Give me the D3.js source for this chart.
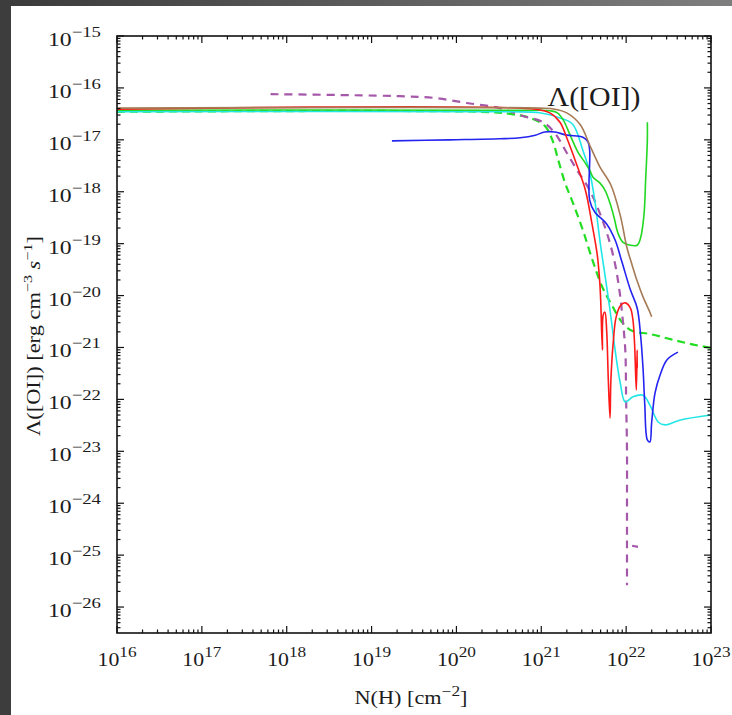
<!DOCTYPE html>
<html><head><meta charset="utf-8">
<script src="https://cdn.jsdelivr.net/npm/d3@7"></script>
<style>
body{margin:0;background:#fff}
svg{display:block}
text{font-family:"Liberation Serif","Times New Roman",serif;fill:#1c1c1c}
</style>
</head><body>
<script>
// ---- data (log10 N(H) [cm^-2], log10 Λ [erg cm^-3 s^-1]) ----
const xExponents = [16, 17, 18, 19, 20, 21, 22, 23];
const yExponents = [-15, -16, -17, -18, -19, -20, -21, -22, -23, -24, -25, -26];
const xDomainExp = [16, 23];
const yDomainExp = [-26.5, -15];
const titleText = "Λ([OI])";

const brownSolid = [[16,-16.39],[20.98,-16.39],[21.16,-16.41],[21.30,-16.48],[21.46,-16.71],[21.57,-17.10],[21.69,-17.52],[21.82,-17.87],[21.93,-18.45],[22.01,-19.08],[22.07,-19.41],[22.13,-19.72],[22.20,-20.03],[22.28,-20.32],[22.30,-20.41]];
const greenSolid = [[16,-16.43],[20.87,-16.43],[21.10,-16.44],[21.19,-16.48],[21.26,-16.62],[21.34,-16.91],[21.43,-17.23],[21.52,-17.45],[21.57,-17.58],[21.61,-17.72],[21.69,-17.83],[21.75,-17.97],[21.81,-18.22],[21.86,-18.51],[21.90,-18.78],[21.96,-18.97],[22.05,-19.03],[22.13,-19.03],[22.17,-18.89],[22.21,-18.45],[22.23,-17.77],[22.25,-17.00],[22.25,-16.66]];
const cyanSolid = [[16,-16.46],[20.63,-16.46],[20.98,-16.48],[21.22,-16.58],[21.37,-16.70],[21.49,-17.20],[21.57,-17.62],[21.63,-18.16],[21.69,-18.93],[21.75,-19.60],[21.81,-20.28],[21.87,-21.05],[21.93,-21.68],[21.99,-22.05],[22.08,-21.95],[22.20,-21.92],[22.28,-22.11],[22.38,-22.44],[22.46,-22.49],[22.63,-22.40],[23.0,-22.30]];
const redSolid = [[16,-16.41],[20.93,-16.41],[21.10,-16.48],[21.22,-16.66],[21.30,-16.96],[21.42,-17.49],[21.52,-17.97],[21.60,-18.64],[21.66,-19.22],[21.69,-19.76],[21.70,-20.09],[21.72,-21.05],[21.73,-20.37],[21.75,-20.32],[21.77,-20.66],[21.79,-21.63],[21.81,-22.36],[21.82,-21.63],[21.85,-20.86],[21.88,-20.43],[21.93,-20.20],[21.99,-20.14],[22.05,-20.24],[22.08,-20.47],[22.10,-20.95],[22.12,-21.82],[22.13,-21.05],[22.13,-21.40]];
const blueSolid = [[19.24,-17.02],[19.92,-17.00],[20.51,-16.98],[20.75,-16.96],[20.93,-16.91],[21.04,-16.85],[21.16,-16.85],[21.30,-16.91],[21.49,-16.95],[21.55,-17.04],[21.57,-17.20],[21.57,-18.16],[21.63,-18.39],[21.77,-18.62],[21.87,-18.93],[21.95,-19.35],[22.05,-19.89],[22.13,-20.24],[22.17,-20.76],[22.20,-21.43],[22.22,-22.11],[22.25,-22.78],[22.28,-22.82],[22.30,-22.46],[22.34,-21.88],[22.40,-21.53],[22.48,-21.24],[22.61,-21.09]];
const greenDashed = [[16,-16.46],[20.28,-16.46],[20.63,-16.50],[20.87,-16.58],[21.04,-16.73],[21.13,-17.00],[21.20,-17.39],[21.28,-17.83],[21.36,-18.16],[21.49,-18.74],[21.61,-19.35],[21.72,-19.84],[21.83,-20.18],[21.95,-20.51],[22.07,-20.68],[22.28,-20.74],[22.52,-20.84],[22.75,-20.93],[23.0,-21.01]];
const purpleDashed = [[17.81,-16.12],[18.75,-16.14],[19.33,-16.16],[19.72,-16.19],[20.12,-16.29],[20.51,-16.39],[20.78,-16.54],[21.02,-16.66],[21.16,-16.87],[21.30,-17.25],[21.42,-17.58],[21.57,-17.97],[21.75,-18.68],[21.86,-19.32],[21.92,-19.89],[21.96,-20.47],[21.99,-21.05],[22.00,-22.01],[22.01,-22.98],[22.01,-23.94],[22.01,-24.81],[22.01,-25.58]];
const purpleBit = [[22.07,-24.82],[22.14,-24.84]];

const W = 732, H = 715;
const M = {left:117, right:711, top:36, bottom:633};

const svg = d3.select("body").append("svg").attr("width", W).attr("height", H);

// dark gray surrounding border (screenshot frame)
const defs = svg.append("defs");
const g1 = defs.append("linearGradient").attr("id","topband").attr("x1","0").attr("x2","1");
g1.append("stop").attr("offset","0").attr("stop-color","#3a3a3a");
g1.append("stop").attr("offset","1").attr("stop-color","#7e7e7e");
svg.append("rect").attr("x",0).attr("y",0).attr("width",W).attr("height",6).attr("fill","url(#topband)");
svg.append("rect").attr("x",0).attr("y",0).attr("width",11).attr("height",H).attr("fill","#3d3d3d");

const x = d3.scaleLog().domain(xDomainExp.map(e=>10**e)).range([M.left, M.right]);
const y = d3.scaleLog().domain(yDomainExp.map(e=>10**e)).range([M.bottom, M.top]);

const clip = defs.append("clipPath").attr("id","plotclip");
clip.append("rect").attr("x",M.left).attr("y",M.top).attr("width",M.right-M.left).attr("height",M.bottom-M.top);

const line = d3.line()
  .x(d=>x(10**d[0])).y(d=>y(10**d[1]))
  .curve(d3.curveCatmullRom.alpha(0.5));

const plot = svg.append("g").attr("clip-path","url(#plotclip)");
const series = [
  {data: greenDashed, color:"#22dd22", w:2.2, dash:"8,5"},
  {data: purpleDashed, color:"#a558aa", w:2.2, dash:"8,6"},
  {data: purpleBit, color:"#a558aa", w:2.2, dash:null},
  {data: cyanSolid, color:"#22e6e6", w:1.6, dash:null},
  {data: greenSolid, color:"#22d822", w:1.6, dash:null},
  {data: blueSolid, color:"#2424f0", w:1.6, dash:null},
  {data: redSolid, color:"#ff1a1a", w:1.6, dash:null},
  {data: brownSolid, color:"#a57a55", w:1.6, dash:null}
];
series.forEach(s=>{
  plot.append("path").attr("d", line(s.data))
    .attr("fill","none").attr("stroke", s.color).attr("stroke-width", s.w)
    .attr("stroke-dasharray", s.dash).attr("stroke-linejoin","round");
});

// frame
svg.append("rect").attr("x",M.left).attr("y",M.top).attr("width",M.right-M.left).attr("height",M.bottom-M.top)
  .attr("fill","none").attr("stroke","#111").attr("stroke-width",1.6);

// ticks (inward, all four sides)
const tk = svg.append("g").attr("stroke","#111").attr("stroke-width",1.2);
const xTicks = [];
for (let e = xDomainExp[0]; e < xDomainExp[1]; e++) for (let k = 1; k < 10; k++) xTicks.push({v:k*10**e, major:k===1});
xTicks.push({v:10**xDomainExp[1], major:true});
xTicks.forEach(t=>{
  const px = x(t.v), L = t.major ? 7 : 3.5;
  tk.append("line").attr("x1",px).attr("x2",px).attr("y1",M.bottom).attr("y2",M.bottom-L);
  tk.append("line").attr("x1",px).attr("x2",px).attr("y1",M.top).attr("y2",M.top+L);
});
const yTicks = [];
for (let e = -27; e < -15; e++) for (let k = 1; k < 10; k++) {
  const v = k*10**e;
  if (v >= 10**yDomainExp[0] && v <= 10**yDomainExp[1]) yTicks.push({v, major:k===1});
}
yTicks.push({v:10**yDomainExp[1], major:true});
yTicks.forEach(t=>{
  const py = y(t.v), L = t.major ? 7 : 3.5;
  tk.append("line").attr("y1",py).attr("y2",py).attr("x1",M.left).attr("x2",M.left+L);
  tk.append("line").attr("y1",py).attr("y2",py).attr("x1",M.right).attr("x2",M.right-L);
});

// x tick labels
xExponents.forEach(e=>{
  const t = svg.append("text").attr("x", x(10**e)).attr("y", 666).attr("text-anchor","middle")
    .style("font-size","19px").attr("textLength",39).attr("lengthAdjust","spacingAndGlyphs");
  t.append("tspan").text("10");
  t.append("tspan").attr("dy",-9).style("font-size","15px").text(String(e));
});
// y tick labels
yExponents.forEach(e=>{
  const t = svg.append("text").attr("x", 101).attr("y", y(10**e)+10).attr("text-anchor","end")
    .style("font-size","19px").attr("textLength",53).attr("lengthAdjust","spacingAndGlyphs");
  t.append("tspan").text("10");
  t.append("tspan").attr("dy",-9).style("font-size","15px").text("\u2212"+Math.abs(e));
});

// axis titles
const xt = svg.append("text").attr("x", 411).attr("y", 704).attr("text-anchor","middle").style("font-size","18px")
  .attr("textLength",113).attr("lengthAdjust","spacingAndGlyphs");
xt.append("tspan").text("N(H) [cm");
xt.append("tspan").attr("dy",-8).style("font-size","14px").text("\u22122");
xt.append("tspan").attr("dy",8).text("]");

const yt = svg.append("text").attr("transform","translate(40,336) rotate(-90)").attr("text-anchor","middle").style("font-size","18px")
  .attr("textLength",200).attr("lengthAdjust","spacingAndGlyphs");
yt.append("tspan").text("Λ([OI]) [erg cm");
yt.append("tspan").attr("dy",-8).style("font-size","13px").text("\u22123");
yt.append("tspan").attr("dy",8).text(" ");
yt.append("tspan").style("font-style","italic").text("s");
yt.append("tspan").attr("dy",-8).style("font-size","13px").text("\u22121");
yt.append("tspan").attr("dy",8).text("]");

// in-plot title
svg.append("text").attr("x", 594).attr("y", 106).attr("text-anchor","middle").style("font-size","28px")
  .attr("textLength",93).attr("lengthAdjust","spacingAndGlyphs").text(titleText);
</script>
</body></html>
